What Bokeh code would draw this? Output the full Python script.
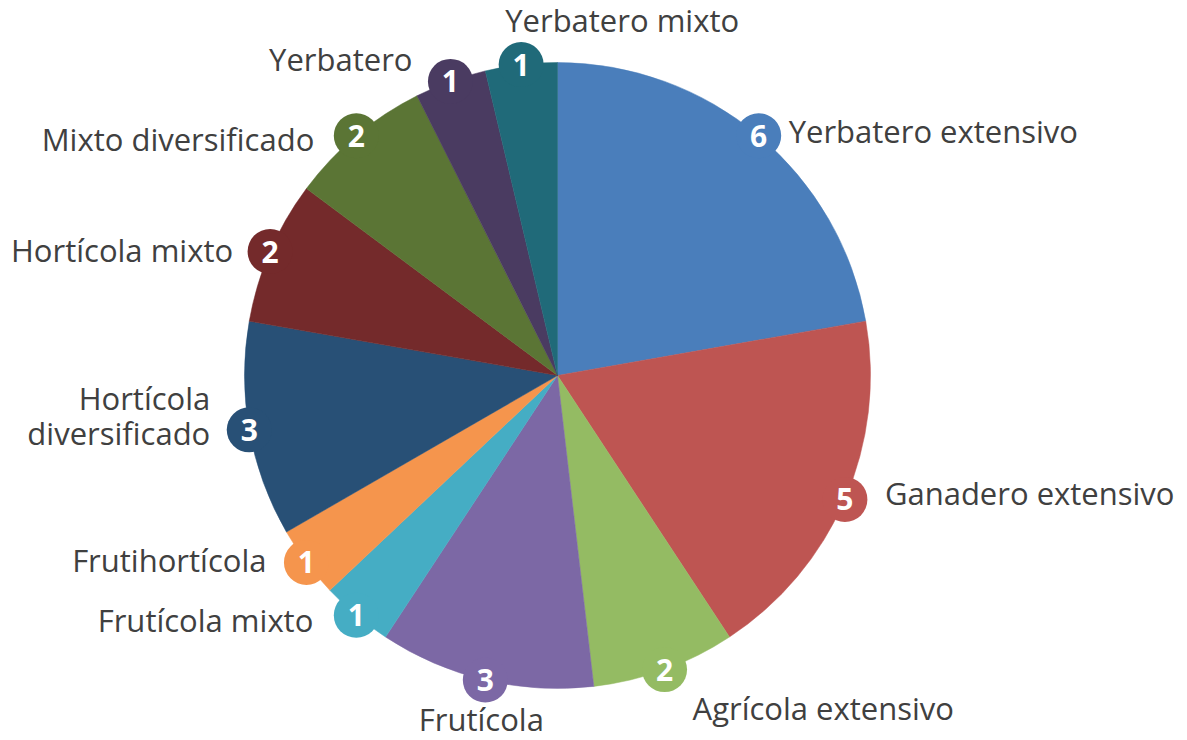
import math
from bokeh.plotting import figure
from bokeh.models import ColumnDataSource, Range1d
from bokeh.core.properties import value
from bokeh.embed import file_html
from bokeh.resources import INLINE

# ---- data ----
categories = ["Yerbatero extensivo", "Ganadero extensivo", "Agrícola extensivo", "Frutícola",
              "Frutícola mixto", "Frutihortícola", "Hortícola\ndiversificado", "Hortícola mixto",
              "Mixto diversificado", "Yerbatero", "Yerbatero mixto"]
counts = [6, 5, 2, 3, 1, 1, 3, 2, 2, 1, 1]
colors = ["#4A7EBB", "#BE5552", "#94BB63", "#7C68A5", "#45ADC4", "#F5954D",
          "#285076", "#742A2B", "#5B7535", "#4A3B61", "#206A79"]

# ---- layout (styles/positions) ----
W, H = 1187, 740
CX, CY = 557, H - 375
R = 313
RB = 313
BADGE_R = 22.5
# label offsets from badge centre (pixels, screen y downward) and alignment
label_dx = [30, 40, 28, -4, -43, -40, -39, -37, -42, -38, 101]
label_dy = [-5, -6, 38, 39, 5, -2, -14, -2, 3, -22, -45]
label_align = ["left", "left", "left", "center", "right", "right", "right", "right", "right", "right", "center"]

total = sum(counts)
starts, ends, bx, by, lx, ly = [], [], [], [], [], []
cum = 0
for i, c in enumerate(counts):
    a0 = cum / total * 2 * math.pi
    cum += c
    a1 = cum / total * 2 * math.pi
    starts.append(math.pi / 2 - a0)
    ends.append(math.pi / 2 - a1)
    am = (a0 + a1) / 2
    x = CX + RB * math.sin(am)
    y = CY + RB * math.cos(am)
    bx.append(x)
    by.append(y)
    lx.append(x + label_dx[i])
    ly.append(y - label_dy[i])

src = ColumnDataSource(dict(start=starts, end=ends, color=colors, bx=bx, by=by,
                            n=[str(c) for c in counts]))

p = figure(width=W, height=H, output_backend="svg", toolbar_location=None,
           x_range=Range1d(0, W), y_range=Range1d(0, H), min_border=0)
p.axis.visible = False
p.grid.visible = False
p.outline_line_color = None
p.background_fill_color = "white"

p.wedge(x=CX, y=CY, radius=R, start_angle="start", end_angle="end", direction="clock",
        fill_color="color", line_color="color", line_width=0.5, source=src)
p.circle(x="bx", y="by", radius=BADGE_R, fill_color="color", line_color=None, source=src)
p.text(x="bx", y="by", text="n", text_color="white", text_font=value("Open Sans"),
       text_font_style="bold", text_font_size="30px", text_align="center",
       text_baseline="middle", source=src)

for align in ["left", "right", "center"]:
    idx = [i for i in range(len(categories)) if label_align[i] == align]
    p.text(x=[lx[i] for i in idx], y=[ly[i] for i in idx], text=[categories[i] for i in idx],
           text_color="#404040", text_font=value("Open Sans"), text_font_size="31px",
           text_align=align, text_baseline="middle", text_line_height=0.83)

open("out.html", "w").write(file_html(p, INLINE))
